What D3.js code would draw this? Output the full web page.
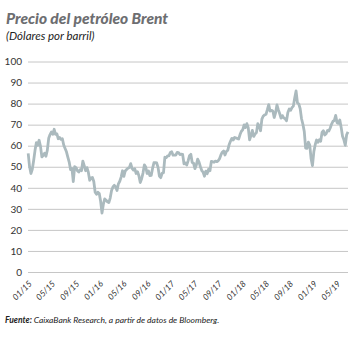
<!DOCTYPE html>
<html>
<head>
<meta charset="utf-8">
<script src="https://cdn.jsdelivr.net/npm/d3@7"></script>
<style>
  body { margin: 0; background: #fff; }
  text { font-family: "Lato", "Open Sans", sans-serif; }
</style>
</head>
<body>
<script>
// SVG size
const width = 362;
const height = 338;

// first Friday of the weekly series
const startDate = "2015-01-02";

// Brent, weekly values in USD per barrel
const prices = [
  // 2015
  56.4, 50.1, 46.8, 48.8, 53.0, 57.8, 61.5, 60.2, 62.6, 59.7, 54.7, 55.3, 56.4,
  55.0, 57.9, 63.5, 65.3, 66.5, 65.4, 67.8, 65.4, 65.6, 63.3, 63.9, 63.0, 63.3,
  60.3, 58.7, 57.1, 54.6, 52.2, 48.6, 49.2, 43.0, 50.0, 49.6, 48.1, 47.5, 48.6,
  48.1, 52.7, 50.5, 48.1, 49.6, 47.4, 43.6, 44.7, 44.9, 43.0, 37.9, 36.9, 37.9,
  // 2016
  37.3, 33.6, 28.0, 32.2, 34.7, 34.1, 33.4, 33.0, 35.1, 38.7, 40.4, 41.2, 40.4,
  38.7, 41.9, 43.1, 45.1, 48.1, 45.4, 48.0, 48.7, 49.3, 49.6, 51.5, 49.2, 48.4,
  49.0, 46.8, 47.6, 45.7, 42.5, 44.3, 47.0, 50.9, 49.9, 46.8, 48.0, 45.8, 45.9,
  49.2, 51.9, 52.0, 51.8, 49.7, 45.6, 44.8, 46.9, 47.2, 54.5, 54.3, 55.2, 55.2,
  56.8,
  // 2017
  57.1, 55.5, 55.5, 55.5, 56.8, 56.7, 55.8, 56.0, 55.9, 51.4, 51.8, 50.8, 52.8,
  55.2, 55.9, 52.0, 51.7, 49.1, 50.8, 53.6, 52.2, 50.0, 48.2, 47.4, 45.5, 47.9,
  46.7, 48.9, 48.1, 52.5, 52.4, 52.1, 52.7, 52.4, 52.8, 53.8, 55.6, 56.9, 57.5,
  55.6, 57.2, 57.8, 60.4, 62.1, 63.5, 62.7, 63.9, 63.7, 63.4, 63.2, 65.3, 66.9,
  // 2018
  67.6, 69.9, 68.6, 70.5, 68.6, 62.8, 64.8, 67.3, 64.4, 65.5, 66.2, 70.5, 69.3,
  67.1, 72.6, 74.1, 74.6, 74.9, 77.1, 79.5, 76.4, 76.8, 76.5, 73.4, 75.6, 79.4,
  77.1, 75.3, 73.1, 74.3, 73.2, 72.8, 71.8, 75.8, 77.4, 76.8, 78.1, 78.8, 82.7,
  86.0, 80.4, 79.8, 77.6, 72.8, 70.2, 66.8, 58.8, 58.7, 61.7, 60.3, 53.8, 50.5,
  // 2019
  57.1, 60.5, 62.7, 61.6, 62.8, 62.1, 66.3, 67.1, 65.1, 65.7, 67.2, 67.0, 68.4,
  70.3, 71.6, 72.0, 74.4, 70.9, 70.6, 72.2, 68.7, 64.5, 62.8, 60.2, 65.2, 66.6
];

// tick labels (every four months)
const tickDates = ["2015-01-01", "2015-05-01", "2015-09-01", "2016-01-01", "2016-05-01",
  "2016-09-01", "2017-01-01", "2017-05-01", "2017-09-01", "2018-01-01", "2018-05-01",
  "2018-09-01", "2019-01-01", "2019-05-01"];
const yTicks = [0, 10, 20, 30, 40, 50, 60, 70, 80, 90, 100];

const parse = d3.timeParse("%Y-%m-%d");
const start = parse(startDate);
const data = prices.map((p, i) => ({ date: d3.timeWeek.offset(start, i), value: p }));

// create SVG
const svg = d3.select("body")
    .append("svg")
    .attr("width", width)
    .attr("height", height);

// title
svg.append("text")
    .attr("x", 6)
    .attr("y", 24)
    .attr("fill", "#6d6e71")
    .style("font-size", "15.5px")
    .style("font-weight", "900")
    .style("font-style", "italic")
    .text("Precio del petróleo Brent");

svg.append("text")
    .attr("x", 6)
    .attr("y", 39.5)
    .attr("fill", "#222")
    .style("font-size", "11.5px")
    .style("font-style", "italic")
    .text("(Dólares por barril)");

// scales
const x = d3.scaleTime()
    .domain([parse("2015-01-01"), data[data.length - 1].date])
    .range([28, 348]);

const y = d3.scaleLinear()
    .domain([0, 100])
    .range([272, 61.5]);

// Y axis + grid
const yAxis = d3.axisLeft(y)
    .tickValues(yTicks)
    .tickSize(-(348 - 28))
    .tickPadding(6);

svg.append("g")
    .attr("transform", "translate(28,0)")
    .call(yAxis)
    .call(g => g.select(".domain").remove())
    .call(g => g.selectAll(".tick line").attr("stroke", "#c6c6c6"))
    .call(g => g.selectAll(".tick text")
        .attr("fill", "#333")
        .style("font-size", "10px")
        .style("font-family", "Lato, sans-serif"));

// X axis labels
const xAxis = d3.axisBottom(x)
    .tickValues(tickDates.map(parse))
    .tickFormat(d3.timeFormat("%m/%y"))
    .tickSize(0);

svg.append("g")
    .attr("transform", "translate(0,278)")
    .call(xAxis)
    .call(g => g.select(".domain").remove())
    .call(g => g.selectAll(".tick text")
        .attr("fill", "#333")
        .attr("text-anchor", "end")
        .attr("dx", "-0.2em")
        .attr("dy", "0.5em")
        .attr("transform", "rotate(-45)")
        .style("font-size", "8.5px")
        .style("font-style", "italic"));

// line
const line = d3.line()
    .x(d => x(d.date))
    .y(d => y(d.value));

svg.append("path")
    .datum(data)
    .attr("fill", "none")
    .attr("stroke", "#abbabe")
    .attr("stroke-width", 2.8)
    .attr("stroke-linejoin", "round")
    .attr("d", line);

// source
const src = svg.append("text")
    .attr("x", 5)
    .attr("y", 323)
    .attr("fill", "#222")
    .style("font-size", "8.5px")
    .style("font-style", "italic");

src.append("tspan")
    .style("font-weight", "bold")
    .text("Fuente: ");

src.append("tspan")
    .text("CaixaBank Research, a partir de datos de Bloomberg.");
</script>
</body>
</html>
